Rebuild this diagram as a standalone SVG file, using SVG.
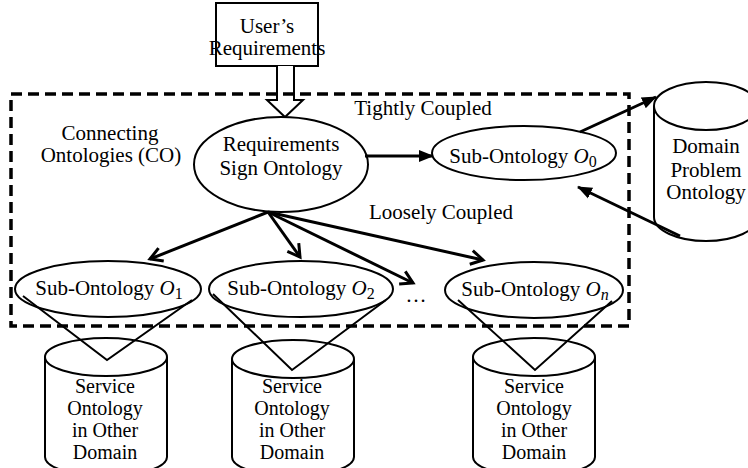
<svg xmlns="http://www.w3.org/2000/svg" width="748" height="468" viewBox="0 0 748 468">
<defs>
<marker id="fill" markerUnits="userSpaceOnUse" markerWidth="16" markerHeight="14" refX="14" refY="7" orient="auto">
<path d="M0,1 L15,7 L0,13 Z" fill="#000"/>
</marker>
<marker id="open" markerUnits="userSpaceOnUse" markerWidth="18" markerHeight="18" refX="14" refY="9" orient="auto">
<path d="M2,2 L14,9 L2,16" fill="none" stroke="#000" stroke-width="3"/>
</marker>
</defs>
<style>
text{font-family:"Liberation Serif","Times New Roman",serif;font-size:21px;fill:#000;text-anchor:middle}
.cy{font-size:20px}
.s{fill:#fff;stroke:#000;stroke-width:2}
.n{fill:none;stroke:#000;stroke-width:2}
.c{fill:none;stroke:#000;stroke-width:3}
.sub{font-size:16px}
</style>
<rect width="748" height="468" fill="#fff"/>

<g id="users-requirements">
<rect x="216" y="3" width="102" height="63" class="s"/>
<text x="267" y="33">User’s</text>
<text x="267" y="55">Requirements</text>
</g>

<g id="hollow-arrow">
<path d="M277,66 L277,100 L267,100 L285,117 L303,100 L294,100 L294,66" class="s"/>
</g>

<g id="co-boundary">
<rect x="11" y="94" width="618" height="232" fill="none" stroke="#000" stroke-width="3.5" stroke-dasharray="11 6"/>
<text x="110" y="140">Connecting</text>
<text x="111" y="162">Ontologies (CO)</text>
<text x="423" y="115">Tightly Coupled</text>
<text x="441" y="219">Loosely Coupled</text>
</g>

<g id="req-sign-ontology">
<ellipse cx="281" cy="164.5" rx="87" ry="47.5" class="s"/>
<text x="281" y="151">Requirements</text>
<text x="281" y="175">Sign Ontology</text>
</g>

<g id="sub-o0">
<ellipse cx="524" cy="153" rx="92" ry="27" class="s"/>
<text x="523" y="163">Sub-Ontology <tspan font-style="italic">O</tspan><tspan class="sub" dy="4">0</tspan></text>
</g>

<g id="domain-problem-ontology">
<path d="M654,106 L654,217 A52,24 0 0 0 758,217 L758,106" class="n"/>
<ellipse cx="706" cy="106" rx="52" ry="24" class="n"/>
<text x="706" y="153">Domain</text>
<text x="706" y="177">Problem</text>
<text x="706" y="199">Ontology</text>
</g>

<g id="sub-o1">
<ellipse cx="108" cy="289" rx="93" ry="28" class="s"/>
<text x="109" y="295">Sub-Ontology <tspan font-style="italic">O</tspan><tspan class="sub" dy="4">1</tspan></text>
</g>
<g id="sub-o2">
<ellipse cx="301" cy="289" rx="92" ry="28" class="s"/>
<text x="301" y="295">Sub-Ontology <tspan font-style="italic">O</tspan><tspan class="sub" dy="4">2</tspan></text>
</g>
<g id="ellipsis">
<text x="416" y="302">…</text>
</g>
<g id="sub-on">
<ellipse cx="534" cy="290" rx="89" ry="28" class="s"/>
<text x="535" y="296">Sub-Ontology <tspan font-style="italic">O</tspan><tspan class="sub" font-style="italic" dy="4">n</tspan></text>
</g>

<g id="service-ontology-1">
<path d="M45,357 L45,457 A61,19 0 0 0 167,457 L167,357" class="n"/>
<ellipse cx="106" cy="357" rx="61" ry="19" class="n"/>
<text class="cy" x="105" y="393">Service</text>
<text class="cy" x="105" y="415">Ontology</text>
<text class="cy" x="105" y="437">in Other</text>
<text class="cy" x="105" y="459">Domain</text>
</g>
<g id="service-ontology-2">
<path d="M232,359 L232,457 A61,19 0 0 0 354,457 L354,359" class="n"/>
<ellipse cx="293" cy="359" rx="61" ry="19" class="n"/>
<text class="cy" x="292" y="393">Service</text>
<text class="cy" x="292" y="415">Ontology</text>
<text class="cy" x="292" y="437">in Other</text>
<text class="cy" x="292" y="459">Domain</text>
</g>
<g id="service-ontology-n">
<path d="M473,357 L473,457 A61,19 0 0 0 595,457 L595,357" class="n"/>
<ellipse cx="534" cy="357" rx="61" ry="19" class="n"/>
<text class="cy" x="534" y="393">Service</text>
<text class="cy" x="534" y="415">Ontology</text>
<text class="cy" x="534" y="437">in Other</text>
<text class="cy" x="534" y="459">Domain</text>
</g>

<g id="connectors">
<polyline points="23,296 107,360 192,300" class="n"/>
<polyline points="213,294 292,370 386,300" class="n"/>
<polyline points="458,300 535,370 612,301" class="n"/>
<line x1="365" y1="156" x2="433" y2="156" class="c" marker-end="url(#fill)"/>
<line x1="580" y1="132" x2="656" y2="97" class="c" marker-end="url(#fill)"/>
<line x1="680" y1="236" x2="578" y2="187" class="c" marker-end="url(#fill)"/>
<line x1="268" y1="212" x2="150" y2="259" class="c" marker-end="url(#open)"/>
<line x1="268" y1="212" x2="300" y2="257" class="c" stroke-width="2.5" marker-end="url(#open)"/>
<line x1="268" y1="212" x2="413" y2="283" class="c" stroke-width="2.5" marker-end="url(#open)"/>
<line x1="268" y1="212" x2="483" y2="260" class="c" stroke-width="3.5" marker-end="url(#open)"/>
</g>
</svg>
